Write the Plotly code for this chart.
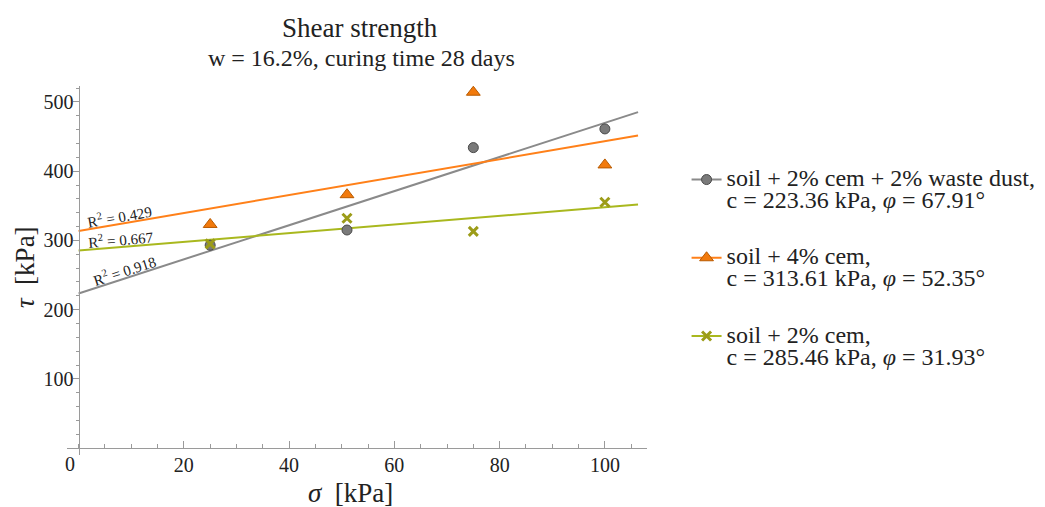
import numpy as np
import plotly.graph_objects as go

# ---------------- data ----------------
sigma = [25, 51, 75, 100]
tau_waste = [293, 315, 434, 461]     # soil + 2% cem + 2% waste dust
tau_cem4 = [323, 366, 514, 409]      # soil + 4% cem
tau_cem2 = [295, 332, 313, 355]      # soil + 2% cem

series_names = ["soil + 2% cem + 2% waste dust,", "soil + 4% cem,", "soil + 2% cem,"]
cohesion = [223.36, 313.61, 285.46]   # c [kPa]
friction = [67.91, 52.35, 31.93]      # phi [deg]
r_squared = [0.918, 0.429, 0.667]
fit_x = [0, 106.3]

x_ticks = [20, 40, 60, 80, 100]
y_ticks = [100, 200, 300, 400, 500]

title_text = "Shear strength"
subtitle_text = "w = 16.2%, curing time 28 days"

# ---------------- styles ----------------
FONT = "Liberation Serif"
TXT = "#222222"
AX = "#9a9a9a"
line_colors = ["#8a8a8a", "#ff8019", "#a9b81e"]
marker_styles = [
    dict(symbol="circle", size=10, color="#7a7a7a", line=dict(color="#4a4a4a", width=1)),
    dict(symbol="triangle-up", size=12, color="#f27a0c", line=dict(color="#b85a00", width=1)),
    dict(symbol="x-thin", size=9, color="#9c9c18", line=dict(color="#9c9c18", width=3)),
]
point_sets = [tau_waste, tau_cem4, tau_cem2]

x_range = [-2.2, 108.0]
y_range = [-10, 523]

fig = go.Figure()

for i in range(3):
    fx = np.array(fit_x, dtype=float)
    fy = cohesion[i] + np.tan(np.radians(friction[i])) * fx
    fig.add_trace(go.Scatter(x=fx, y=fy, mode="lines",
                             line=dict(color=line_colors[i], width=2),
                             showlegend=False, hoverinfo="skip"))

for i in range(3):
    fig.add_trace(go.Scatter(x=sigma, y=point_sets[i], mode="markers",
                             marker=marker_styles[i], showlegend=False))

# legend entries
for i in range(3):
    label = (f'<span style="font-size:24px">{series_names[i]}</span><br>'
             f'<span style="font-size:24px">c = {cohesion[i]:.2f} kPa, <i>φ</i> = {friction[i]:.2f}°</span>')
    fig.add_trace(go.Scatter(x=[None], y=[None], mode="lines+markers",
                             line=dict(color=line_colors[i], width=2),
                             marker=marker_styles[i], name=label,
                             legendgroup=f"g{i}", showlegend=True))

# R^2 labels along the fit lines
r2_pos = [8.8, 7.75, 8.0]
r2_angle = [-18, -10, -5]
for i in range(3):
    yy = cohesion[i] + np.tan(np.radians(friction[i])) * r2_pos[i]
    fig.add_annotation(x=r2_pos[i], y=yy, xref="x", yref="y",
                       xanchor="center", yanchor="middle",
                       text=f"R<sup>2</sup> = {r_squared[i]}",
                       showarrow=False, textangle=r2_angle[i], yshift=8,
                       font=dict(family=FONT, size=15, color=TXT))

# titles
fig.add_annotation(x=0.505, y=1.157, xref="paper", yref="paper", text=title_text,
                   xanchor="center", yanchor="middle",
                   showarrow=False, font=dict(family=FONT, size=27, color=TXT))
fig.add_annotation(x=0.508, y=1.076, xref="paper", yref="paper", text=subtitle_text,
                   xanchor="center", yanchor="middle",
                   showarrow=False, font=dict(family=FONT, size=24, color=TXT))

# axis titles
fig.add_annotation(x=0.488, y=-0.104, xref="paper", yref="paper",
                   xanchor="center", yanchor="middle",
                   text="<i>σ</i>  [kPa]", showarrow=False,
                   font=dict(family=FONT, size=27, color=TXT))
fig.add_annotation(x=-0.072, y=0.510, xref="paper", yref="paper",
                   xanchor="center", yanchor="middle",
                   text="<i>τ</i>  [kPa]", showarrow=False, textangle=-90,
                   font=dict(family=FONT, size=27, color=TXT))
# origin label
fig.add_annotation(x=0, y=0, xref="x", yref="y", text="0", showarrow=False,
                   xanchor="center", yanchor="middle",
                   xshift=-9, yshift=-16, font=dict(family=FONT, size=20, color=TXT))

fig.update_xaxes(range=x_range, anchor="free",
                 position=(0 - y_range[0]) / (y_range[1] - y_range[0]),
                 showgrid=False, zeroline=False, showline=True, linecolor=AX, linewidth=1,
                 tickmode="array", tickvals=x_ticks, ticktext=[str(v) for v in x_ticks],
                 ticks="inside", ticklen=7, tickcolor=AX, tickwidth=1,
                 tickfont=dict(family=FONT, size=20, color=TXT), ticklabelstandoff=-1,
                 minor=dict(tickmode="linear", tick0=0, dtick=5, ticks="inside",
                            ticklen=4, tickcolor=AX, tickwidth=1))
fig.update_yaxes(range=y_range, anchor="free",
                 position=(0 - x_range[0]) / (x_range[1] - x_range[0]),
                 showgrid=False, zeroline=False, showline=True, linecolor=AX, linewidth=1,
                 tickmode="array", tickvals=y_ticks, ticktext=[str(v) for v in y_ticks],
                 ticks="outside", ticklen=6, tickcolor=AX, tickwidth=1,
                 tickfont=dict(family=FONT, size=20, color=TXT), ticklabelstandoff=-5,
                 minor=dict(tickmode="linear", tick0=0, dtick=20, ticks="outside",
                            ticklen=3, tickcolor=AX, tickwidth=1))

fig.update_layout(
    width=1045, height=507,
    margin=dict(l=67, r=398, t=86, b=52),
    paper_bgcolor="white", plot_bgcolor="white",
    font=dict(family=FONT, color=TXT),
    legend=dict(xref="container", yref="container", x=0.657, y=1 - 162 / 507,
                xanchor="left", yanchor="top", valign="top",
                font=dict(family=FONT, size=17, color=TXT),
                tracegroupgap=31, bgcolor="rgba(0,0,0,0)", itemwidth=30,
                traceorder="grouped"),
)

fig.write_html("out.html")
